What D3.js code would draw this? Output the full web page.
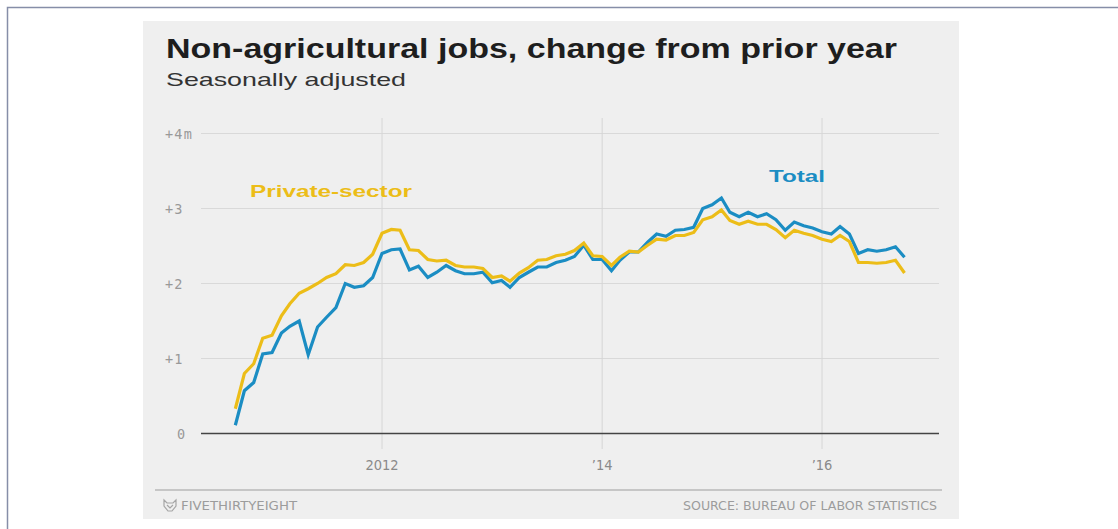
<!DOCTYPE html>
<html>
<head>
<meta charset="utf-8">
<script src="https://cdn.jsdelivr.net/npm/d3@7"></script>
<style>
  html, body { margin: 0; padding: 0; background: #fff; }
  svg { display: block; }
</style>
</head>
<body>
<div id="chart"></div>
<script>
// Year-over-year change in jobs, millions, monthly from Sep 2010 to Oct 2016
const firstMonth = new Date(2010, 8, 1);

const total = [
  0.11, 0.57, 0.68, 1.06,
  1.08, 1.34, 1.43, 1.50, 1.05, 1.42, 1.55, 1.68, 2.00, 1.95, 1.97, 2.08,
  2.40, 2.45, 2.46, 2.18, 2.23, 2.08, 2.15, 2.24, 2.17, 2.13, 2.13, 2.15,
  2.01, 2.04, 1.95, 2.08, 2.15, 2.22, 2.22, 2.28, 2.31, 2.36, 2.51, 2.32,
  2.32, 2.17, 2.31, 2.42, 2.42, 2.55, 2.66, 2.63, 2.71, 2.72, 2.75, 3.00,
  3.05, 3.14, 2.95, 2.89, 2.95, 2.89, 2.93, 2.85, 2.71, 2.82, 2.77, 2.74,
  2.69, 2.66, 2.76, 2.66, 2.40, 2.45, 2.43, 2.45, 2.49, 2.35
];

const privateSector = [
  0.33, 0.80, 0.93, 1.27,
  1.31, 1.57, 1.73, 1.87, 1.93, 2.00, 2.08, 2.13, 2.25, 2.24, 2.28, 2.39,
  2.67, 2.72, 2.71, 2.45, 2.44, 2.32, 2.30, 2.31, 2.24, 2.22, 2.22, 2.20,
  2.08, 2.10, 2.03, 2.14, 2.21, 2.31, 2.32, 2.37, 2.39, 2.44, 2.54, 2.37,
  2.36, 2.24, 2.35, 2.43, 2.42, 2.51, 2.59, 2.58, 2.64, 2.64, 2.68, 2.85,
  2.89, 2.98, 2.84, 2.79, 2.83, 2.79, 2.79, 2.72, 2.61, 2.71, 2.67, 2.64,
  2.59, 2.56, 2.64, 2.56, 2.28, 2.28, 2.27, 2.28, 2.31, 2.14
];

const yTicks = [0, 1, 2, 3, 4];
const xTicks = [new Date(2012, 0, 1), new Date(2014, 0, 1), new Date(2016, 0, 1)];
const xTickLabels = ["2012", "\u201914", "\u201916"];

const W = 1118, H = 529;
const blue = "#1b8dc3";
const gold = "#ecbd18";

const svg = d3.select("#chart").append("svg")
  .attr("width", W)
  .attr("height", H);

// outer frame
svg.append("rect").attr("width", W).attr("height", H).attr("fill", "#fff");
svg.append("path")
  .attr("d", `M7.5,${H} V7.5 H${W}`)
  .attr("fill", "none")
  .attr("stroke", "#868ea8")
  .attr("stroke-width", 1.5);

// grey card
svg.append("rect")
  .attr("x", 143).attr("y", 21)
  .attr("width", 816).attr("height", 498)
  .attr("fill", "#efefef");

// titles
svg.append("text")
  .attr("x", 166).attr("y", 58)
  .attr("font-family", "'Liberation Sans', Arial, sans-serif")
  .attr("font-weight", "bold")
  .attr("font-size", 27)
  .attr("fill", "#1e1e1e")
  .attr("textLength", 731)
  .attr("lengthAdjust", "spacingAndGlyphs")
  .text("Non-agricultural jobs, change from prior year");

svg.append("text")
  .attr("x", 166).attr("y", 86)
  .attr("font-family", "'Liberation Sans', Arial, sans-serif")
  .attr("font-size", 19)
  .attr("fill", "#333")
  .attr("textLength", 240)
  .attr("lengthAdjust", "spacingAndGlyphs")
  .text("Seasonally adjusted");

// scales
const x = d3.scaleTime()
  .domain([new Date(2012, 0, 1), new Date(2016, 0, 1)])
  .range([382, 822]);

const y = d3.scaleLinear()
  .domain([0, 4])
  .range([433.5, 133.5]);

const plotLeft = 201, plotRight = 939;

// horizontal gridlines
svg.append("g")
  .selectAll("line")
  .data(yTicks.filter(d => d > 0))
  .join("line")
  .attr("x1", plotLeft).attr("x2", plotRight)
  .attr("y1", d => y(d)).attr("y2", d => y(d))
  .attr("stroke", "#d9d9d9")
  .attr("stroke-width", 1);

// vertical gridlines at year ticks
svg.append("g")
  .selectAll("line")
  .data(xTicks)
  .join("line")
  .attr("x1", d => x(d)).attr("x2", d => x(d))
  .attr("y1", 118).attr("y2", 449)
  .attr("stroke", "#d6d6d6")
  .attr("stroke-width", 1);

// y labels
svg.append("g")
  .selectAll("text")
  .data(yTicks)
  .join("text")
  .attr("x", d => d > 0 ? 165 : 177)
  .attr("y", d => y(d) + 5)
  .attr("font-family", "'DejaVu Sans Mono', 'Liberation Mono', monospace")
  .attr("font-size", 13.5)
  .attr("letter-spacing", 1.2)
  .attr("fill", "#999")
  .text(d => (d > 0 ? "+" : "") + d + (d === 4 ? "m" : ""));

// x labels
svg.append("g")
  .selectAll("text")
  .data(xTicks)
  .join("text")
  .attr("x", d => x(d))
  .attr("y", 470)
  .attr("text-anchor", "middle")
  .attr("font-family", "'DejaVu Sans', sans-serif")
  .attr("font-stretch", "condensed")
  .attr("font-size", 14.5)
  .attr("fill", "#8a8a8a")
  .text((d, i) => xTickLabels[i]);

// baseline
svg.append("line")
  .attr("x1", plotLeft).attr("x2", plotRight)
  .attr("y1", y(0)).attr("y2", y(0))
  .attr("stroke", "#444")
  .attr("stroke-width", 1.3);

// lines
const line = d3.line()
  .x((d, i) => x(d3.timeMonth.offset(firstMonth, i)))
  .y(d => y(d));

svg.append("path")
  .datum(total)
  .attr("fill", "none")
  .attr("stroke", blue)
  .attr("stroke-width", 3.2)
  .attr("d", line);

svg.append("path")
  .datum(privateSector)
  .attr("fill", "none")
  .attr("stroke", gold)
  .attr("stroke-width", 3.2)
  .attr("d", line);

// series labels
svg.append("text")
  .attr("x", 250).attr("y", 197)
  .attr("font-family", "'Liberation Sans', Arial, sans-serif")
  .attr("font-weight", "bold")
  .attr("font-size", 17)
  .attr("fill", gold)
  .attr("textLength", 162)
  .attr("lengthAdjust", "spacingAndGlyphs")
  .text("Private-sector");

svg.append("text")
  .attr("x", 769).attr("y", 182)
  .attr("font-family", "'Liberation Sans', Arial, sans-serif")
  .attr("font-weight", "bold")
  .attr("font-size", 17)
  .attr("fill", blue)
  .attr("textLength", 56)
  .attr("lengthAdjust", "spacingAndGlyphs")
  .text("Total");

// footer
svg.append("line")
  .attr("x1", 155).attr("x2", 942)
  .attr("y1", 490).attr("y2", 490)
  .attr("stroke", "#b9b9b9")
  .attr("stroke-width", 1.5);

// little fox logo
svg.append("path")
  .attr("d", "M164,500 L167,503 L173,503 L176,500 L176,506 L172,511 L168,511 L164,506 Z M167,505 L170,508 L173,505")
  .attr("fill", "none")
  .attr("stroke", "#a5a5a5")
  .attr("stroke-width", 1.2);

svg.append("text")
  .attr("x", 181).attr("y", 510)
  .attr("font-family", "'DejaVu Sans', sans-serif")
  .attr("font-stretch", "condensed")
  .attr("font-size", 12.5)
  .attr("fill", "#9c9c9c")
  .attr("textLength", 116)
  .attr("lengthAdjust", "spacingAndGlyphs")
  .text("FIVETHIRTYEIGHT");

svg.append("text")
  .attr("x", 937).attr("y", 510)
  .attr("text-anchor", "end")
  .attr("font-family", "'DejaVu Sans', sans-serif")
  .attr("font-stretch", "condensed")
  .attr("font-size", 12.5)
  .attr("fill", "#9c9c9c")
  .attr("textLength", 254)
  .attr("lengthAdjust", "spacingAndGlyphs")
  .text("SOURCE: BUREAU OF LABOR STATISTICS");
</script>
</body>
</html>
